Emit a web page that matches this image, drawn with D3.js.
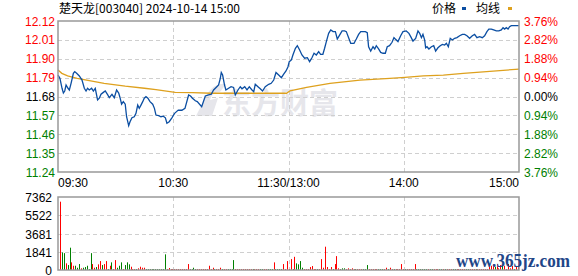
<!DOCTYPE html>
<html>
<head>
<meta charset="utf-8">
<script src="https://cdn.jsdelivr.net/npm/d3@7/dist/d3.min.js"></script>
<style>
  body { margin: 0; background: #fff; }
  svg { display: block; }
</style>
</head>
<body>
<svg id="chart" width="578" height="276"></svg>
<script>
var title = "楚天龙[003040] 2024-10-14 15:00";
var preClose = 11.68;
var priceTicks = [12.12, 12.01, 11.90, 11.79, 11.68, 11.57, 11.46, 11.35, 11.24];
var pctTicks = ["3.76%", "2.82%", "1.88%", "0.94%", "0.00%", "0.94%", "1.88%", "2.82%", "3.76%"];
var timeTicks = [[0, "09:30"], [60, "10:30"], [120, "11:30/13:00"], [180, "14:00"], [240, "15:00"]];
var volTicks = [7362, 5522, 3681, 1841, 0];

// minute index (0..240) and price
var priceT = [0, 1, 2.1, 2.8, 3.5, 4.2, 5.2, 5.9, 6.8, 8, 8.7, 9.7, 11.1, 12.5, 13.7, 14.6, 15.4, 16.3, 17.5, 18.4,
  19.4, 20.6, 21.5, 22.4, 23.6, 24.6, 25.9, 26.7, 28.1, 29.3, 30.5, 31.6, 32.3, 33.1, 34, 35, 35.7, 36.8, 37.5, 38.5,
  39.7, 40.6, 41.5, 42.3, 43.2, 44.1, 44.9, 45.8, 46.8, 47.9, 49.3, 50.2, 51, 52.4, 53.6, 54.8, 55.9, 56.7, 57.9, 59.3,
  60.7, 62.6, 64.5, 66.1, 68, 69, 70, 71.5, 72.5, 74.8, 76.7, 78.4, 79.8, 81, 82.7, 83.6, 84.5, 85, 85.7, 86.7,
  87.4, 88.8, 90.1, 91.4, 92.3, 93.7, 94.9, 95.8, 97.2, 98.4, 99.6, 101, 101.9, 102.7, 104.1, 105.3, 106.5, 107.9, 109.7, 111,
  112.3, 113.5, 114.9, 116.3, 117.5, 118.7, 119.7, 120.4, 121.5, 122.3, 123.6, 124.6, 125.8, 127, 128.4, 129.8, 131, 132.2, 133.3, 134.5,
  135.7, 136.7, 137.9, 138.8, 139.7, 140.9, 142, 143.2, 144.4, 145.4, 146.6, 147.9, 149.2, 150.1, 151.3, 152.4, 154.1, 155.3, 156.5, 157.6,
  160, 161, 161.7, 162.8, 164, 164.9, 165.7, 166.9, 168, 169.2, 170.4, 171.4, 172.6, 173.9, 174.9, 175.6, 177, 178.4, 179.6, 181.3,
  182.7, 183.9, 184.8, 186.2, 187.4, 188.3, 189.2, 190, 190.9, 191.4, 192.1, 193.1, 194.4, 195.6, 196.6, 197.8, 199, 200.1, 201.3, 202.2,
  203.2, 204.2, 205.3, 206.5, 207.7, 209.1, 210.5, 211.7, 212.9, 214.3, 215.7, 216.9, 218.1, 219.5, 220.9, 222.1, 223.3, 224.3, 225.6, 226.8,
  228.2, 229.5, 230.8, 231.7, 232.5, 233.4, 234.3, 235.1, 236, 240];
var priceV = [11.805, 11.786, 11.728, 11.70, 11.712, 11.747, 11.728, 11.718, 11.757, 11.815, 11.825, 11.815, 11.80, 11.776, 11.728, 11.712, 11.728, 11.718, 11.728, 11.712,
  11.728, 11.66, 11.67, 11.693, 11.704, 11.712, 11.689, 11.673, 11.693, 11.673, 11.718, 11.70, 11.673, 11.635, 11.65, 11.635, 11.562, 11.51, 11.533, 11.556,
  11.562, 11.582, 11.63, 11.611, 11.63, 11.65, 11.67, 11.679, 11.67, 11.65, 11.635, 11.611, 11.572, 11.568, 11.562, 11.565, 11.556, 11.524, 11.533, 11.556,
  11.582, 11.601, 11.60, 11.611, 11.689, 11.683, 11.67, 11.655, 11.65, 11.62, 11.683, 11.689, 11.693, 11.718, 11.737, 11.747, 11.786, 11.82, 11.805, 11.747,
  11.718, 11.728, 11.737, 11.733, 11.689, 11.718, 11.737, 11.725, 11.737, 11.718, 11.737, 11.718, 11.708, 11.751, 11.737, 11.725, 11.712, 11.737, 11.751, 11.757,
  11.776, 11.82, 11.805, 11.79, 11.81, 11.829, 11.852, 11.883, 11.893, 11.922, 11.961, 11.976, 11.951, 11.922, 11.903, 11.906, 11.883, 11.906, 11.932, 11.922,
  11.941, 11.926, 11.926, 11.961, 12.0, 12.048, 12.068, 12.058, 12.058, 12.015, 12.038, 12.062, 12.062, 12.058, 12.023, 11.99, 11.99, 12.015, 12.042, 12.058,
  12.058, 12.052, 11.97, 11.945, 11.97, 11.957, 11.976, 11.957, 11.937, 11.932, 11.932, 11.97, 11.976, 11.996, 12.023, 12.015, 12.0, 12.034, 12.058, 12.062,
  12.048, 12.023, 12.003, 12.019, 12.062, 12.048, 12.023, 12.042, 12.009, 11.964, 11.97, 11.957, 11.97, 11.976, 11.945, 11.964, 11.976, 11.984, 11.98, 11.99,
  11.97, 12.019, 12.009, 12.019, 12.023, 12.034, 12.042, 12.042, 12.034, 12.019, 12.034, 12.042, 12.023, 12.029, 12.023, 12.034, 12.058, 12.073, 12.073, 12.068,
  12.062, 12.062, 12.068, 12.081, 12.073, 12.081, 12.073, 12.087, 12.093, 12.093];

var avgT = [0, 2, 5, 10, 24, 35, 45, 51, 61, 70, 80, 119, 120.8, 129.4, 141.6, 157.2, 172.8, 180.6, 190.2, 200.6, 211, 223.1, 233.5, 240];
var avgV = [11.835, 11.815, 11.80, 11.786, 11.757, 11.74, 11.728, 11.72, 11.704, 11.702, 11.699, 11.699, 11.713, 11.733, 11.757, 11.776, 11.786, 11.792, 11.80, 11.805, 11.815, 11.825, 11.834, 11.84];

// volume per minute, and r = up (red) / g = down (green)
var volume = [
  6890, 1780, 1700, 670, 500, 2250, 770, 430, 430, 230,
  600, 170, 230, 300, 430, 100, 1700, 600, 230, 300,
  570, 900, 500, 600, 900, 100, 430, 770, 100, 1000,
  230, 430, 770, 100, 500, 770, 570, 330, 100, 100,
  100, 170, 330, 230, 230, 100, 100, 100, 100, 100,
  100, 100, 100, 100, 100, 1580, 100, 200, 100, 100,
  100, 100, 100, 100, 100, 100, 100, 600, 100, 100,
  230, 100, 100, 100, 100, 100, 100, 100, 430, 100,
  230, 100, 100, 100, 230, 100, 100, 100, 100, 100,
  100, 1000, 100, 100, 100, 100, 100, 100, 100, 100,
  100, 100, 100, 100, 100, 100, 100, 100, 100, 100,
  100, 100, 770, 100, 100, 100, 100, 600, 100, 900,
  100, 1100, 100, 1330, 670, 570, 900, 230, 100, 100,
  100, 300, 400, 100, 100, 100, 100, 1100, 230, 2350,
  300, 100, 300, 100, 600, 1400, 170, 100, 170, 170,
  100, 170, 100, 170, 100, 100, 100, 100, 100, 100,
  100, 500, 100, 100, 100, 100, 100, 100, 100, 100,
  100, 230, 100, 230, 100, 100, 100, 100, 100, 600,
  100, 100, 100, 100, 100, 100, 600, 100, 100, 100,
  100, 100, 100, 100, 100, 100, 100, 100, 100, 100,
  100, 100, 100, 100, 100, 100, 100, 100, 100, 100,
  100, 100, 100, 100, 100, 100, 100, 100, 100, 100,
  100, 100, 100, 100, 100, 330, 430, 600, 330, 600,
  170, 500, 430, 430, 100, 600, 170, 400, 100, 400,
  1000];
var volColor = ("rggrggrrgg" + "grgggggrrg" + "rrgrrgrgrr" + "gggrgggrrr" +
  "grrrrggggg" + "ggggggrrrr" + "rrrrrrrrgg" + "ggrrrrrrrr" + "rgrrrgrrgg" +
  "ggrrrrrrrr" + "rgrrrggrrg" + "ggrggggrrr" + "rrgrggggrr" + "rrrrrgrrrr" +
  "rrrgrrrggg" + "rrrrrgrrrg" + "ggrrrrrggg" + "rrgrrgrrrr" + "rgrrrrrggg" +
  "gggrggrrrg" + "grgrrrggrr" + "rrrggrrrgr" + "rrrrrrrrgr" + "rrgrrrrrgr" + "r").split("");

var svg = d3.select("#chart");
var L = 58, R = 519, T = 21, B = 172, VT = 197, VB = 270;
var grey = "#999", gridCol = "#cfcfcf";
var red = "#ff0000", green = "#008000";
var font = "'Liberation Sans', Arial, sans-serif";

var x = d3.scaleLinear().domain([0, 240]).range([L, R]);
var y = d3.scaleLinear().domain([11.24, 12.12]).range([B, T]);
var yv = d3.scaleLinear().domain([0, 7362]).range([VB, VT]);
var xv = d3.scaleLinear().domain([0, 240]).range([60, 517.5]);

// watermark
var wm = svg.append("g").attr("fill", "#e6e6eb");
wm.append("path")
  .attr("d", "M196,116 L206,96 Q214,82 226,84 L220,92 Q212,92 210,100 L218,98 L212,116 Z");
wm.append("text").attr("x", 222).attr("y", 114)
  .attr("font-family", "'Noto Sans CJK SC', sans-serif").attr("font-weight", "bold")
  .attr("font-size", 29).text("东方财富");

// grid
var grid = svg.append("g").attr("stroke", gridCol).attr("stroke-dasharray", "4,3").attr("fill", "none");
priceTicks.slice(1, -1).forEach(function(p) {
  var yy = Math.round(y(p)) + 0.5;
  grid.append("line").attr("x1", L).attr("x2", R).attr("y1", yy).attr("y2", yy);
});
volTicks.slice(1, -1).forEach(function(v) {
  var yy = Math.round(yv(v)) + 0.5;
  grid.append("line").attr("x1", L).attr("x2", R).attr("y1", yy).attr("y2", yy);
});
timeTicks.slice(1, -1).forEach(function(t) {
  var xx = Math.round(x(t[0])) + 0.5;
  grid.append("line").attr("x1", xx).attr("x2", xx).attr("y1", T).attr("y2", B);
  grid.append("line").attr("x1", xx).attr("x2", xx).attr("y1", VT).attr("y2", VB);
});

// volume bars
svg.append("g").selectAll("rect").data(volume).enter().append("rect")
  .attr("x", function(d, i) { return Math.round(xv(i)); })
  .attr("width", 1)
  .attr("y", function(d) { return yv(d); })
  .attr("height", function(d) { return VB - yv(d); })
  .attr("fill", function(d, i) { return volColor[i] === "g" ? green : red; });

// lines
var line = d3.line()
  .x(function(d) { return x(d[0]); })
  .y(function(d) { return y(d[1]); });
svg.append("path").datum(d3.zip(avgT, avgV)).attr("d", line)
  .attr("fill", "none").attr("stroke", "#dea11e").attr("stroke-width", 1.3);
svg.append("path").datum(d3.zip(priceT, priceV)).attr("d", line)
  .attr("fill", "none").attr("stroke", "#0b4ea2").attr("stroke-width", 1.3);

// frames
svg.append("rect").attr("x", L).attr("y", T).attr("width", R - L).attr("height", B - T)
  .attr("fill", "none").attr("stroke", grey).attr("stroke-width", 1.5);
svg.append("rect").attr("x", L).attr("y", VT).attr("width", R - L).attr("height", VB - VT)
  .attr("fill", "none").attr("stroke", grey).attr("stroke-width", 1.5);

// price labels
var labCol = function(i) { return i < 4 ? red : (i === 4 ? "#000" : green); };
svg.append("g").selectAll("text").data(priceTicks).enter().append("text")
  .attr("x", 55).attr("y", function(d) { return y(d) + 4.5; })
  .attr("text-anchor", "end").attr("font-family", font).attr("font-size", 12)
  .attr("fill", function(d, i) { return labCol(i); })
  .text(function(d) { return d.toFixed(2); });
svg.append("g").selectAll("text").data(pctTicks).enter().append("text")
  .attr("x", 524).attr("y", function(d, i) { return y(priceTicks[i]) + 4.5; })
  .attr("font-family", font).attr("font-size", 12)
  .attr("fill", function(d, i) { return labCol(i); })
  .text(function(d) { return d; });

// time labels
svg.append("g").selectAll("text").data(timeTicks).enter().append("text")
  .attr("x", function(d) { return x(d[0]); }).attr("y", 187)
  .attr("text-anchor", function(d, i) { return i === 0 ? "start" : (i === 4 ? "end" : "middle"); })
  .attr("font-family", font).attr("font-size", 12).attr("fill", "#000")
  .text(function(d) { return d[1]; });

// volume labels
svg.append("g").selectAll("text").data(volTicks).enter().append("text")
  .attr("x", 52).attr("y", function(d) { return Math.min(yv(d) + 5, 274.5); })
  .attr("text-anchor", "end").attr("font-family", font).attr("font-size", 12).attr("fill", "#000")
  .text(function(d) { return d; });

// title and legend
svg.append("text").attr("x", 59).attr("y", 13)
  .attr("font-family", "'Noto Sans CJK SC', sans-serif").attr("font-size", 12).attr("fill", "#000")
  .text(title);
svg.append("text").attr("x", 432).attr("y", 13)
  .attr("font-family", "'Noto Sans CJK SC', sans-serif").attr("font-size", 12).text("价格");
svg.append("rect").attr("x", 462).attr("y", 7).attr("width", 4).attr("height", 3).attr("fill", "#0b4ea2");
svg.append("text").attr("x", 476).attr("y", 13)
  .attr("font-family", "'Noto Sans CJK SC', sans-serif").attr("font-size", 12).text("均线");
svg.append("rect").attr("x", 508).attr("y", 7).attr("width", 4).attr("height", 3).attr("fill", "#dea11e");

// site mark
svg.append("text").attr("x", 456).attr("y", 267)
  .attr("font-family", "'Liberation Serif', serif").attr("font-weight", "bold")
  .attr("font-size", 18).attr("textLength", 114).attr("lengthAdjust", "spacingAndGlyphs")
  .attr("fill", "#1f4688").text("www.365jz.com");
</script>
</body>
</html>
